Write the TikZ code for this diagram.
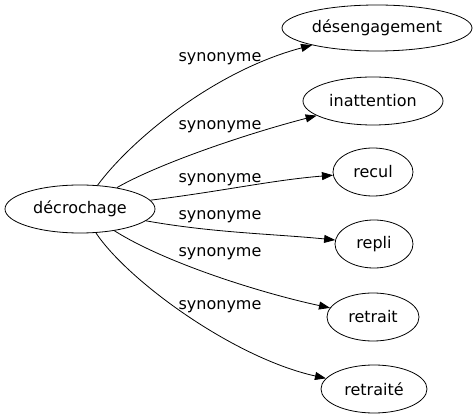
\documentclass[tikz,border=0pt]{standalone}
\usepackage{fontspec}
\setmainfont{DejaVu Sans}
\usetikzlibrary{arrows.meta,shapes.geometric}
\begin{document}
\begin{tikzpicture}[x=1pt,y=-1pt,
  word/.style={ellipse,draw,line width=0.8pt,inner sep=0pt,font=\fontsize{16}{18}\selectfont},
  lab/.style={inner sep=0pt,font=\fontsize{16}{18}\selectfont},
  edge/.style={line width=0.8pt,-{Triangle[length=11pt,width=8pt]}}]
\useasboundingbox (0,0) rectangle (474,419);
\node[word,minimum width=150pt,minimum height=48pt] (src) at (80,209) {décrochage};
\node[word,minimum width=190pt,minimum height=46pt] (d1) at (377,28) {désengagement};
\node[word,minimum width=140pt,minimum height=48pt] (d2) at (373,101) {inattention};
\node[word,minimum width=80pt,minimum height=48pt] (d3) at (373,172) {recul};
\node[word,minimum width=78pt,minimum height=48pt] (d4) at (374,244) {repli};
\node[word,minimum width=92pt,minimum height=48pt] (d5) at (373,317) {retrait};
\node[word,minimum width=106pt,minimum height=48pt] (d6) at (374,389) {retraité};
\draw[edge] (src) .. controls (131,140) and (214,71) .. (d1);
\draw[edge] (src) .. controls (156,165) and (242,135) .. (d2);
\draw[edge] (src) .. controls (224,191) and (273,180) .. (d3);
\draw[edge] (src) .. controls (214,233) and (276,234) .. (d4);
\draw[edge] (src) .. controls (167,264) and (265,294) .. (d5);
\draw[edge] (src) .. controls (128,281) and (234,358) .. (d6);
\node[lab] (l1) at (220,59) {synonyme};
\node[lab] (l2) at (220,127) {synonyme};
\node[lab] (l3) at (220,180) {synonyme};
\node[lab] (l4) at (220,217) {synonyme};
\node[lab] (l5) at (220,254) {synonyme};
\node[lab] (l6) at (220,307) {synonyme};
\end{tikzpicture}
\end{document}
